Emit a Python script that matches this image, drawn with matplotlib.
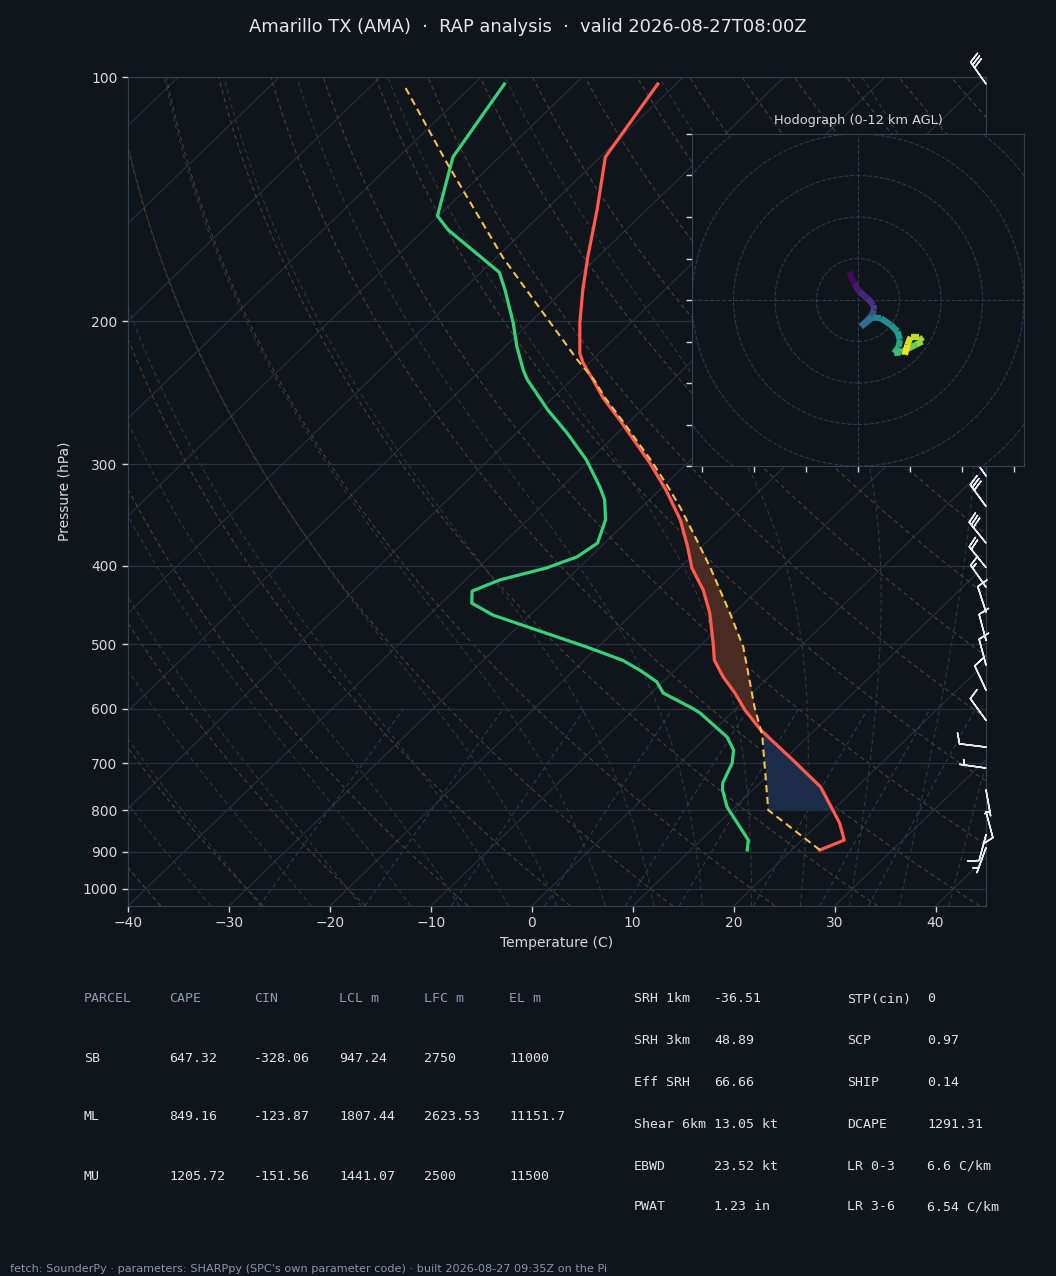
import matplotlib
matplotlib.use("Agg")
import matplotlib.pyplot as plt
import matplotlib.transforms as mtransforms
from matplotlib.collections import LineCollection
from matplotlib.patches import Circle
from matplotlib.ticker import NullLocator
import numpy as np

BG = "#10141b"
FG = "#d5d9de"
SPINE = "#39424f"
GRID = "#29313c"

TITLE = "Amarillo TX (AMA)  \u00b7  RAP analysis  \u00b7  valid 2026-08-27T08:00Z"
FOOTER = ("fetch: SounderPy \u00b7 parameters: SHARPpy (SPC's own parameter code) "
          "\u00b7 built 2026-08-27 09:35Z on the Pi")

# environment temperature (hPa, C)
temp_pres = [895.8, 871, 830, 800, 749, 694, 637, 602, 574, 548.5, 523, 498, 457.5, 428.6,
             402.5, 379, 351, 323, 299, 264.6, 248.6, 236, 225, 219, 201, 183, 166.6, 145.8,
             125.5, 102]
temp_vals = [22.8, 24.2, 22.0, 20.0, 16.4, 10.9, 4.6, 1.0, -1.7, -4.5, -7.1, -9.0, -12.4,
             -15.4, -18.8, -21.4, -24.9, -29.3, -33.7, -41.1, -45.0, -47.9, -50.6, -51.9,
             -55.0, -58.1, -61.0, -64.9, -69.5, -71.8]

# dewpoint (hPa, C)
dew_pres = [895.8, 871, 839, 793, 755.5, 740.7, 700, 674.6, 650, 607.5, 599, 574, 556, 537.7,
            523, 503.7, 480, 460, 444.7, 429.8, 416.4, 402.5, 390, 375, 351, 332, 320, 296.4,
            274.5, 257, 236, 229.6, 215, 201, 183, 174, 154.3, 148.3, 125.5, 102]
dew_vals = [15.6, 14.7, 12.5, 9.2, 7.0, 6.3, 5.2, 4.0, 2.0, -3.1, -4.4, -8.8, -10.6, -13.5,
            -16.2, -21.1, -27.8, -33.7, -37.0, -38.2, -36.6, -33.2, -31.3, -30.7, -32.3,
            -34.4, -36.2, -40.3, -45.0, -49.3, -54.4, -55.8, -58.8, -61.6, -65.8, -68.2,
            -77.6, -80.1, -84.6, -87.0]

# surface-based parcel (hPa, C)
parcel_pres = [895.8, 800, 646.5, 599, 503.7, 457.5, 401.4, 363.5, 340, 323, 299, 264.6,
               248.6, 236, 223, 167, 127.6, 102]
parcel_vals = [22.8, 13.6, 5.3, 1.8, -5.6, -10.4, -17.1, -22.4, -26.0, -28.9, -33.4, -40.9,
               -44.8, -47.8, -51.5, -69.3, -84.6, -97.0]

LCL_P = 800
CAPE_TOP_P = 350

# wind barbs (hPa, direction deg, speed kt)
barb_pres = [102, 130, 160, 190, 220, 250, 280, 310, 338, 375, 402, 425, 456, 494, 530, 569,
             620, 669, 710, 755, 804, 858, 890]
barb_dir = [325, 320, 315, 315, 320, 320, 320, 325, 324, 321, 321, 325, 342, 345, 345, 335,
            324, 277, 278, 170, 165, 195, 200]
barb_spd = [30, 35, 40, 45, 45, 40, 40, 35, 30, 30, 20, 15, 10, 10, 10, 10,
            10, 10, 5, 5, 10, 10, 5]

# hodograph (km AGL, m/s)
hodo_z = [0, 0.5, 1, 1.5, 2, 2.5, 3, 3.5, 4, 4.5, 5, 5.5, 6, 6.5, 7, 7.5, 8, 8.5, 9, 9.5,
          10, 10.5, 11, 11.5, 12]
hodo_u = [-2.1, -0.9, 0.3, 2.3, 3.7, 3.9, 3.1, 1.9, 0.7, 2.3, 3.5, 5.5, 7.9, 9.5, 10.1, 9.8,
          8.7, 10.3, 11.9, 13.9, 15.5, 14.7, 12.7, 11.9, 11.3]
hodo_v = [6.8, 4.0, 2.0, 0.4, -1.2, -2.4, -4.0, -5.2, -6.4, -5.2, -4.2, -4.4, -6.0, -7.6,
          -9.6, -11.3, -12.8, -12.6, -11.8, -10.8, -10.0, -8.9, -8.9, -10.8, -13.2]

# parameter tables
table_cols = ["PARCEL", "CAPE", "CIN", "LCL m", "LFC m", "EL m"]
table_rows = [
    ["SB", "647.32", "-328.06", "947.24", "2750", "11000"],
    ["ML", "849.16", "-123.87", "1807.44", "2623.53", "11151.7"],
    ["MU", "1205.72", "-151.56", "1441.07", "2500", "11500"],
]
kin_labels = ["SRH 1km", "SRH 3km", "Eff SRH", "Shear 6km", "EBWD", "PWAT"]
kin_values = ["-36.51", "48.89", "66.66", "13.05 kt", "23.52 kt", "1.23 in"]
comp_labels = ["STP(cin)", "SCP", "SHIP", "DCAPE", "LR 0-3", "LR 3-6"]
comp_values = ["0", "0.97", "0.14", "1291.31", "6.6 C/km", "6.54 C/km"]

P_BOT, P_TOP = 1050, 100
T_LEFT, T_RIGHT = -40, 45

RD, CP, LV, EPS = 287.04, 1005.7, 2.501e6, 0.622


def sat_vapor(tc):
    return 6.112 * np.exp(17.67 * tc / (tc + 243.5))


def moist_adiabat(t0, pres):
    # integrate the pseudo-adiabatic lapse rate from 1000 hPa outward
    def dtdp(p, tk):
        es = sat_vapor(tk - 273.15)
        rs = EPS * es / (p - es)
        return (RD * tk + LV * rs) / (CP + LV ** 2 * rs * EPS / (RD * tk ** 2)) / p

    out = np.empty_like(pres)
    for i, p_target in enumerate(pres):
        steps = np.geomspace(1000.0, p_target, 40) if p_target != 1000 else np.array([1000.0])
        tk = t0 + 273.15
        for a, b in zip(steps[:-1], steps[1:]):
            h = b - a
            k1 = dtdp(a, tk)
            k2 = dtdp(a + h / 2, tk + h / 2 * k1)
            k3 = dtdp(a + h / 2, tk + h / 2 * k2)
            k4 = dtdp(b, tk + h * k3)
            tk = tk + h / 6 * (k1 + 2 * k2 + 2 * k3 + k4)
        out[i] = tk - 273.15
    return out


def draw_background(ax, skew):
    p = np.geomspace(P_BOT, P_TOP, 80)
    for t in range(-130, 50, 10):
        ax.plot([t, t], [P_BOT, P_TOP], transform=skew, color=GRID, lw=0.8, zorder=1)
    for t0 in range(-40, 201, 10):
        t = (t0 + 273.15) * (p / 1000.0) ** (RD / CP) - 273.15
        ax.plot(t, p, transform=skew, color="#4d4131", lw=0.8, ls="--", dashes=(4, 3),
                zorder=1)
    pm = np.geomspace(P_BOT, P_TOP, 30)
    for t0 in range(-45, 46, 5):
        ax.plot(moist_adiabat(t0, pm), pm, transform=skew, color="#2d3a3b", lw=0.8,
                ls="--", dashes=(4, 3), zorder=1)
    pw = np.geomspace(P_BOT, 600, 20)
    for w in [0.0004, 0.001, 0.002, 0.004, 0.007, 0.01, 0.016, 0.024, 0.032]:
        e = pw * w / (EPS + w)
        ln = np.log(e / 6.112)
        td = 243.5 * ln / (17.67 - ln)
        ax.plot(td, pw, transform=skew, color="#2b3c52", lw=0.8, ls="--", dashes=(4, 3),
                zorder=1)
    for pr in range(100, 1001, 100):
        ax.axhline(pr, color=GRID, lw=0.9, zorder=1)


def draw_shading(ax, skew):
    pgrid = np.geomspace(LCL_P, CAPE_TOP_P, 200)
    lp = -np.log(pgrid)
    env = np.interp(lp, -np.log(temp_pres), temp_vals)
    par = np.interp(lp, -np.log(parcel_pres), parcel_vals)
    ax.fill_betweenx(pgrid, env, par, where=par >= env, interpolate=True, transform=skew,
                     color="#4a2b24", lw=0, zorder=2)
    ax.fill_betweenx(pgrid, env, par, where=par <= env, interpolate=True, transform=skew,
                     color="#1b2d48", lw=0, zorder=2)


def draw_tables(fig):
    W, H = fig.get_size_inches() * fig.dpi
    mono = "DejaVu Sans Mono"
    head_c = "#8e9cae"
    val_c = "#dde2e8"

    def fx(px):
        return px / W

    def fy(py):
        return 1 - py / H

    col_x = [84, 169, 254, 339, 424, 509]
    row_y = [999, 1058, 1117, 1176]
    for x, name in zip(col_x, table_cols):
        fig.text(fx(x), fy(row_y[0]), name, family=mono, fontsize=9.5, color=head_c,
                 va="center", ha="left")
    for y, row in zip(row_y[1:], table_rows):
        for x, cell in zip(col_x, row):
            fig.text(fx(x), fy(y), cell, family=mono, fontsize=9.5, color=val_c,
                     va="center", ha="left")

    kin_y = [999, 1041, 1083, 1124, 1166, 1207]
    for y, lab, val, lab2, val2 in zip(kin_y, kin_labels, kin_values, comp_labels, comp_values):
        fig.text(fx(634), fy(y), lab, family=mono, fontsize=9.5, color=val_c, va="center")
        fig.text(fx(714), fy(y), val, family=mono, fontsize=9.5, color=val_c, va="center")
        fig.text(fx(847), fy(y), lab2, family=mono, fontsize=9.5, color=val_c, va="center")
        fig.text(fx(927), fy(y), val2, family=mono, fontsize=9.5, color=val_c, va="center")

    fig.text(fx(10), fy(1269), FOOTER, fontsize=8.1, color="#8797ab", va="center", ha="left")


def draw_hodograph(fig):
    ax = fig.add_axes([692 / 1056, 1 - 466 / 1276, 332 / 1056, 332 / 1276])
    ax.set_facecolor(BG)
    ax.set_xlim(-40, 40)
    ax.set_ylim(-40, 40)
    for r in range(10, 60, 10):
        ax.add_patch(Circle((0, 0), r, fill=False, ls="--", lw=0.8, color="#2f3a48"))
    ax.axhline(0, color="#2f3a48", ls="--", lw=0.8)
    ax.axvline(0, color="#2f3a48", ls="--", lw=0.8)

    pts = np.column_stack([hodo_u, hodo_v])
    segs = np.stack([pts[:-1], pts[1:]], axis=1)
    z = np.asarray(hodo_z)
    lc = LineCollection(segs, cmap="viridis", norm=plt.Normalize(0, 12), lw=4.5,
                        capstyle="butt")
    lc.set_array(0.5 * (z[:-1] + z[1:]))
    ax.add_collection(lc)

    ax.set_xticks(np.arange(-37.5, 40, 12.5))
    ax.set_yticks(np.arange(-40, 41, 10))
    ax.tick_params(colors="#cfd4da", length=4, width=1, labelleft=False, labelbottom=False)
    for s in ax.spines.values():
        s.set_color(SPINE)
    ax.set_title("Hodograph (0-12 km AGL)", fontsize=9.3, color=FG, pad=7)


def main():
    fig = plt.figure(figsize=(10.56, 12.76), dpi=100, facecolor=BG)
    ax = fig.add_axes([128 / 1056, 1 - 906 / 1276, 858 / 1056, 829 / 1276])
    ax.set_facecolor(BG)
    ax.set_yscale("log")
    ax.set_xlim(T_LEFT, T_RIGHT)
    ax.set_ylim(P_BOT, P_TOP)

    # skew in axes coordinates, 45 degrees
    skew = ax.transScale + ax.transLimits + mtransforms.Affine2D().skew_deg(45, 0) + ax.transAxes

    draw_background(ax, skew)
    draw_shading(ax, skew)

    ax.plot(temp_vals, temp_pres, transform=skew, color="#ff5a4c", lw=2.3, zorder=4)
    ax.plot(dew_vals, dew_pres, transform=skew, color="#35d27b", lw=2.3, zorder=4)
    ax.plot(parcel_vals, parcel_pres, transform=skew, color="#f4c244", lw=1.5, ls="--",
            dashes=(3.5, 2.2), zorder=5)

    spd = np.asarray(barb_spd, float)
    rad = np.deg2rad(barb_dir)
    u = -spd * np.sin(rad)
    v = -spd * np.cos(rad)
    barb_trans = mtransforms.blended_transform_factory(ax.transAxes, ax.transData)
    ax.barbs(np.ones(len(barb_pres)), barb_pres, u, v, transform=barb_trans, clip_on=False,
             color="#e8ecf0", lw=1.1, length=6.2, zorder=6)

    ax.set_xlim(T_LEFT, T_RIGHT)
    ax.set_ylim(P_BOT, P_TOP)
    yt = list(range(100, 1001, 100))
    ax.set_yticks(yt)
    ax.set_yticklabels([str(t) for t in yt])
    ax.yaxis.set_minor_locator(NullLocator())
    ax.set_xticks(range(-40, 41, 10))
    ax.tick_params(colors="#cfd4da", labelcolor=FG, labelsize=10, length=4, width=1)
    for s in ax.spines.values():
        s.set_color(SPINE)
    ax.set_xlabel("Temperature (C)", color=FG, fontsize=10, labelpad=4)
    ax.set_ylabel("Pressure (hPa)", color=FG, fontsize=10, labelpad=8)

    fig.text(0.5, 1 - 27 / 1276, TITLE, ha="center", va="center", fontsize=12.9, color="#e4e7eb")

    draw_hodograph(fig)
    draw_tables(fig)

    fig.savefig("out.png", dpi=100, facecolor=BG)


if __name__ == "__main__":
    main()
